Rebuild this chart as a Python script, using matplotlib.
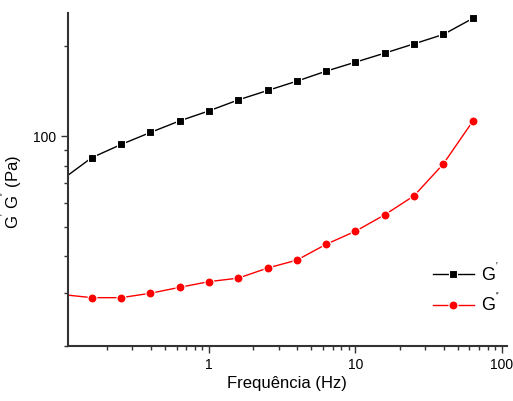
import matplotlib
matplotlib.use("Agg")
import matplotlib.pyplot as plt
from matplotlib.ticker import FuncFormatter, NullFormatter

# frequency (Hz) and moduli (Pa)
freq = [0.1, 0.158, 0.251, 0.398, 0.631, 1.0, 1.585, 2.512, 3.981,
        6.31, 10.0, 15.85, 25.12, 39.81, 63.1]
g_storage = [72.0, 84.9, 94.0, 103.1, 112.7, 121.7, 132.4, 142.3, 152.9,
             165.1, 176.9, 189.6, 203.6, 218.8, 247.4]
g_loss = [29.7, 29.0, 29.0, 30.0, 31.4, 32.8, 33.7, 36.4, 38.7,
          43.7, 48.3, 54.8, 63.4, 81.0, 112.2]

plt.rcParams["font.family"] = ["Liberation Sans", "DejaVu Sans"]
plt.rcParams["mathtext.fontset"] = "custom"
plt.rcParams["mathtext.rm"] = "Liberation Sans"

fig = plt.figure(figsize=(5.13, 4.01), dpi=100)
ax = fig.add_axes([0.1326, 0.137, 0.988 - 0.1326, 0.9676 - 0.137])

ax.plot(freq, g_storage, color="black", lw=1.0, marker="s", ms=6,
        mfc="black", mec="white", mew=0.8, label=r"G$^{'}$")
ax.plot(freq, g_loss, color="red", lw=1.0, marker="o", ms=6.5,
        mfc="red", mec="white", mew=0.8, label=r"G$^{''}$")

ax.set_xscale("log")
ax.set_yscale("log")
ax.set_xlim(0.109, 108)
ax.set_ylim(20, 258)

ax.xaxis.set_major_formatter(FuncFormatter(lambda v, p: f"{v:g}"))
ax.xaxis.set_minor_formatter(NullFormatter())
ax.yaxis.set_major_formatter(FuncFormatter(lambda v, p: f"{v:g}"))
ax.yaxis.set_minor_formatter(NullFormatter())

for side in ("top", "right"):
    ax.spines[side].set_visible(False)
for side in ("left", "bottom"):
    ax.spines[side].set_linewidth(1.5)
    ax.spines[side].set_color("#333333")

ax.tick_params(which="major", direction="out", length=5, width=1.0,
               labelsize=10, colors="#333333", labelcolor="black")
ax.tick_params(which="minor", direction="out", length=3, width=1.0,
               colors="#333333")

ax.set_xlabel("Frequência (Hz)", fontsize=12, labelpad=3)
ax.set_ylabel(r"G$^{'}$ G$^{''}$ (Pa)", fontsize=12)
ax.yaxis.set_label_coords(-0.10, 0.462)

ax.legend(loc="upper left", bbox_to_anchor=(0.831, 0.251), frameon=False,
          fontsize=13, handlelength=2.3, handletextpad=0.4,
          labelspacing=0.45, borderpad=0, borderaxespad=0)

fig.savefig("out.png", dpi=100)
